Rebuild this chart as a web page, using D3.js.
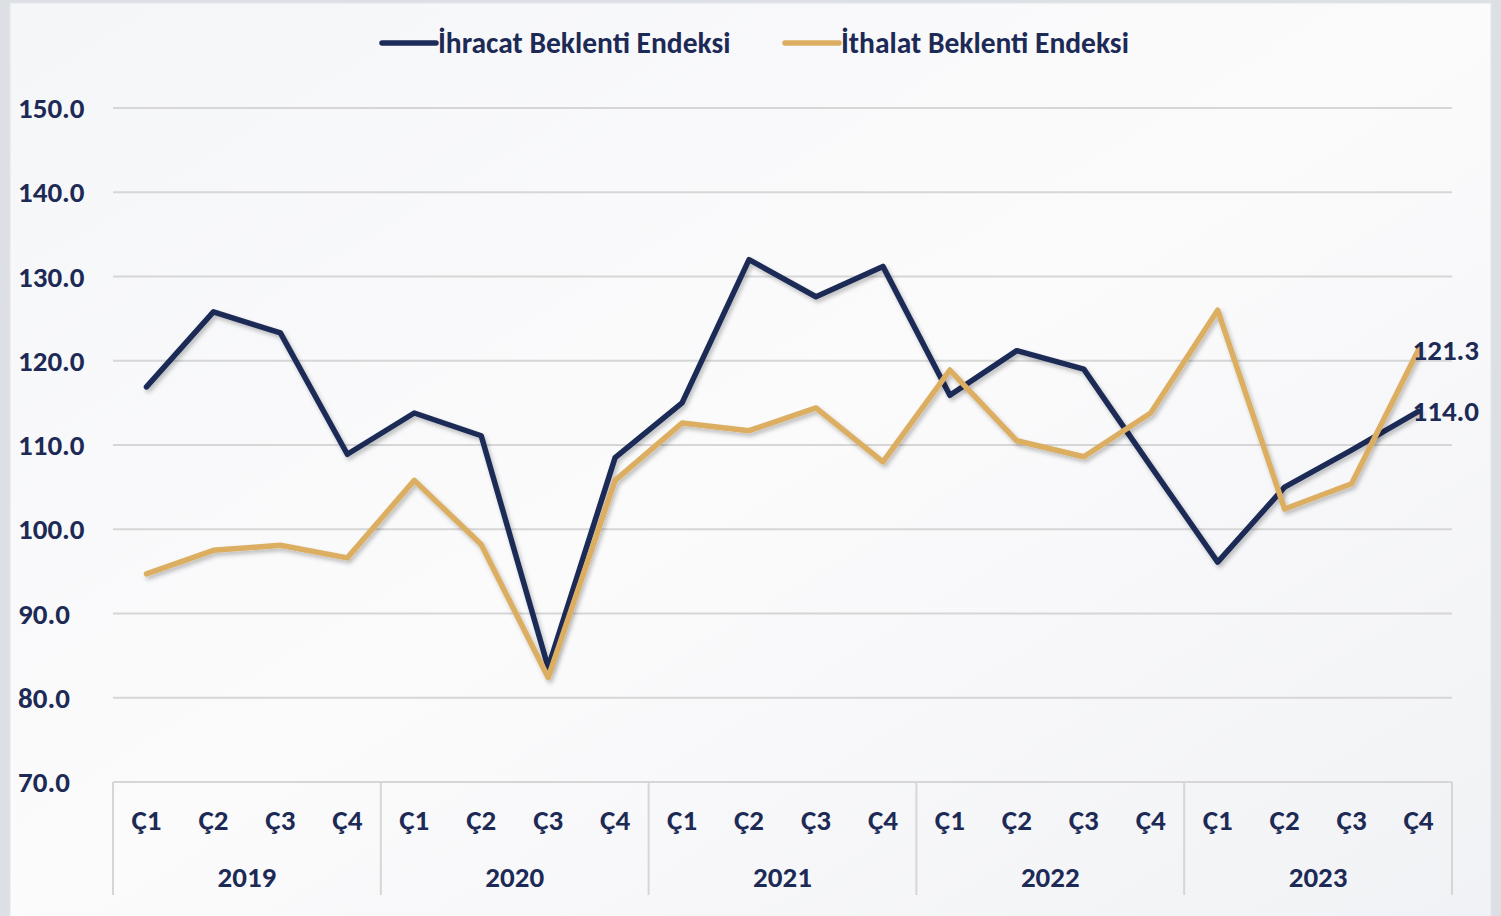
<!DOCTYPE html>
<html>
<head>
<meta charset="utf-8">
<script src="https://cdn.jsdelivr.net/npm/d3@7"></script>
<style>
html,body{margin:0;padding:0;background:#dfe2e7;}
svg{display:block;}
</style>
</head>
<body>
<svg id="chart" width="1501" height="916"></svg>
<script>
const years = ["2019","2020","2021","2022","2023"];
const quarters = ["Ç1","Ç2","Ç3","Ç4"];
const categories = years.flatMap(y => quarters.map(q => y + "-" + q));
const ihracat = [116.9,125.8,123.3,108.9, 113.8,111.1,83.6,108.5, 115.0,132.0,127.6,131.2, 115.9,121.2,119.0,107.5, 96.1,105.0,109.4,114.0];
const ithalat = [94.7,97.5,98.1,96.6, 105.8,98.2,82.4,105.8, 112.6,111.7,114.4,108.0, 118.9,110.5,108.6,113.8, 126.0,102.4,105.4,121.3];
const yTicks = [70,80,90,100,110,120,130,140,150];
const seriesNames = ["İhracat Beklenti Endeksi","İthalat Beklenti Endeksi"];
const seriesColors = ["#1c2b57","#dcae62"];

(function(){
const svg = d3.select("#chart");
const W = 1501, H = 916;
const font = "Carlito, 'Liberation Sans Narrow', 'Open Sans', sans-serif";
const textColor = "#1c2a55";

const defs = svg.append("defs");
const bg = defs.append("linearGradient").attr("id","bg").attr("x1","0").attr("y1","0").attr("x2","1").attr("y2","1");
bg.append("stop").attr("offset","0").attr("stop-color","#f5f6f8");
bg.append("stop").attr("offset","0.5").attr("stop-color","#fbfbfc");
bg.append("stop").attr("offset","1").attr("stop-color","#f1f2f5");
const sh = defs.append("filter").attr("id","shadow").attr("x","-5%").attr("y","-5%").attr("width","110%").attr("height","115%");
sh.append("feDropShadow").attr("dx",2).attr("dy",3).attr("stdDeviation",2).attr("flood-color","#000").attr("flood-opacity",0.25);

svg.append("rect").attr("x",0).attr("y",0).attr("width",W).attr("height",H).attr("fill","#dcdfe4");
svg.append("rect").attr("x",10).attr("y",3).attr("width",1481).attr("height",H).attr("fill","url(#bg)")
  .attr("stroke","#e4e6ea").attr("stroke-width",1);

const pLeft = 113, pRight = 1452, pTop = 108, pBottom = 782;
const x = d3.scaleBand().domain(categories).range([pLeft,pRight]).padding(0);
const y = d3.scaleLinear().domain([70,150]).range([pBottom,pTop]);

svg.append("g").selectAll("line").data(yTicks).join("line")
  .attr("x1",pLeft).attr("x2",pRight)
  .attr("y1",d=>y(d)).attr("y2",d=>y(d))
  .attr("stroke","#d6d6d6").attr("stroke-width",2);

svg.append("g").selectAll("text").data(yTicks).join("text")
  .attr("x",18).attr("y",d=>y(d)).attr("dy","0.35em")
  .attr("font-family",font).attr("font-weight","bold").attr("font-size",29)
  .attr("fill",textColor).text(d=>d.toFixed(1));

const sepX = years.map(yr => x(yr+"-Ç1")).concat([pRight]);
svg.append("g").selectAll("line").data(sepX).join("line")
  .attr("x1",d=>d).attr("x2",d=>d).attr("y1",pBottom).attr("y2",895)
  .attr("stroke","#d6d6d6").attr("stroke-width",2);

svg.append("g").selectAll("text").data(categories).join("text")
  .attr("x",d=>x(d)+x.bandwidth()/2).attr("y",820).attr("dy","0.35em")
  .attr("text-anchor","middle")
  .attr("font-family",font).attr("font-weight","bold").attr("font-size",29)
  .attr("fill",textColor).text(d=>d.split("-")[1]);

svg.append("g").selectAll("text").data(years).join("text")
  .attr("x",yr=>(x(yr+"-Ç1")+x(yr+"-Ç4")+x.bandwidth())/2).attr("y",877).attr("dy","0.35em")
  .attr("text-anchor","middle")
  .attr("font-family",font).attr("font-weight","bold").attr("font-size",29)
  .attr("fill",textColor).text(d=>d);

const line = d3.line().x((d,i)=>x(categories[i])+x.bandwidth()/2).y(d=>y(d));
const seriesData = [ihracat, ithalat];
seriesData.forEach((s,k)=>{
  svg.append("path").datum(s).attr("d",line)
    .attr("fill","none").attr("stroke",seriesColors[k]).attr("stroke-width",5.5)
    .attr("stroke-linejoin","round").attr("stroke-linecap","round")
    .attr("filter","url(#shadow)");
});

const lastCat = categories[categories.length-1];
[ithalat, ihracat].forEach(s=>{
  const v = s[s.length-1];
  svg.append("text").attr("x",x(lastCat)+x.bandwidth()/2-6).attr("y",y(v)).attr("dy","0.35em")
    .attr("font-family",font).attr("font-weight","bold").attr("font-size",29)
    .attr("fill",textColor).text(v.toFixed(1));
});

const legendX = [380, 783];
seriesNames.forEach((n,k)=>{
  const g = svg.append("g").attr("transform",`translate(${legendX[k]},43)`);
  g.append("line").attr("x1",2).attr("x2",56).attr("y1",0).attr("y2",0)
    .attr("stroke",seriesColors[k]).attr("stroke-width",5.5).attr("stroke-linecap","round");
  g.append("text").attr("x",58).attr("y",0).attr("dy","0.35em")
    .attr("font-family",font).attr("font-weight","bold").attr("font-size",29.5)
    .attr("fill",textColor).text(n);
});
})();
</script>
</body>
</html>
